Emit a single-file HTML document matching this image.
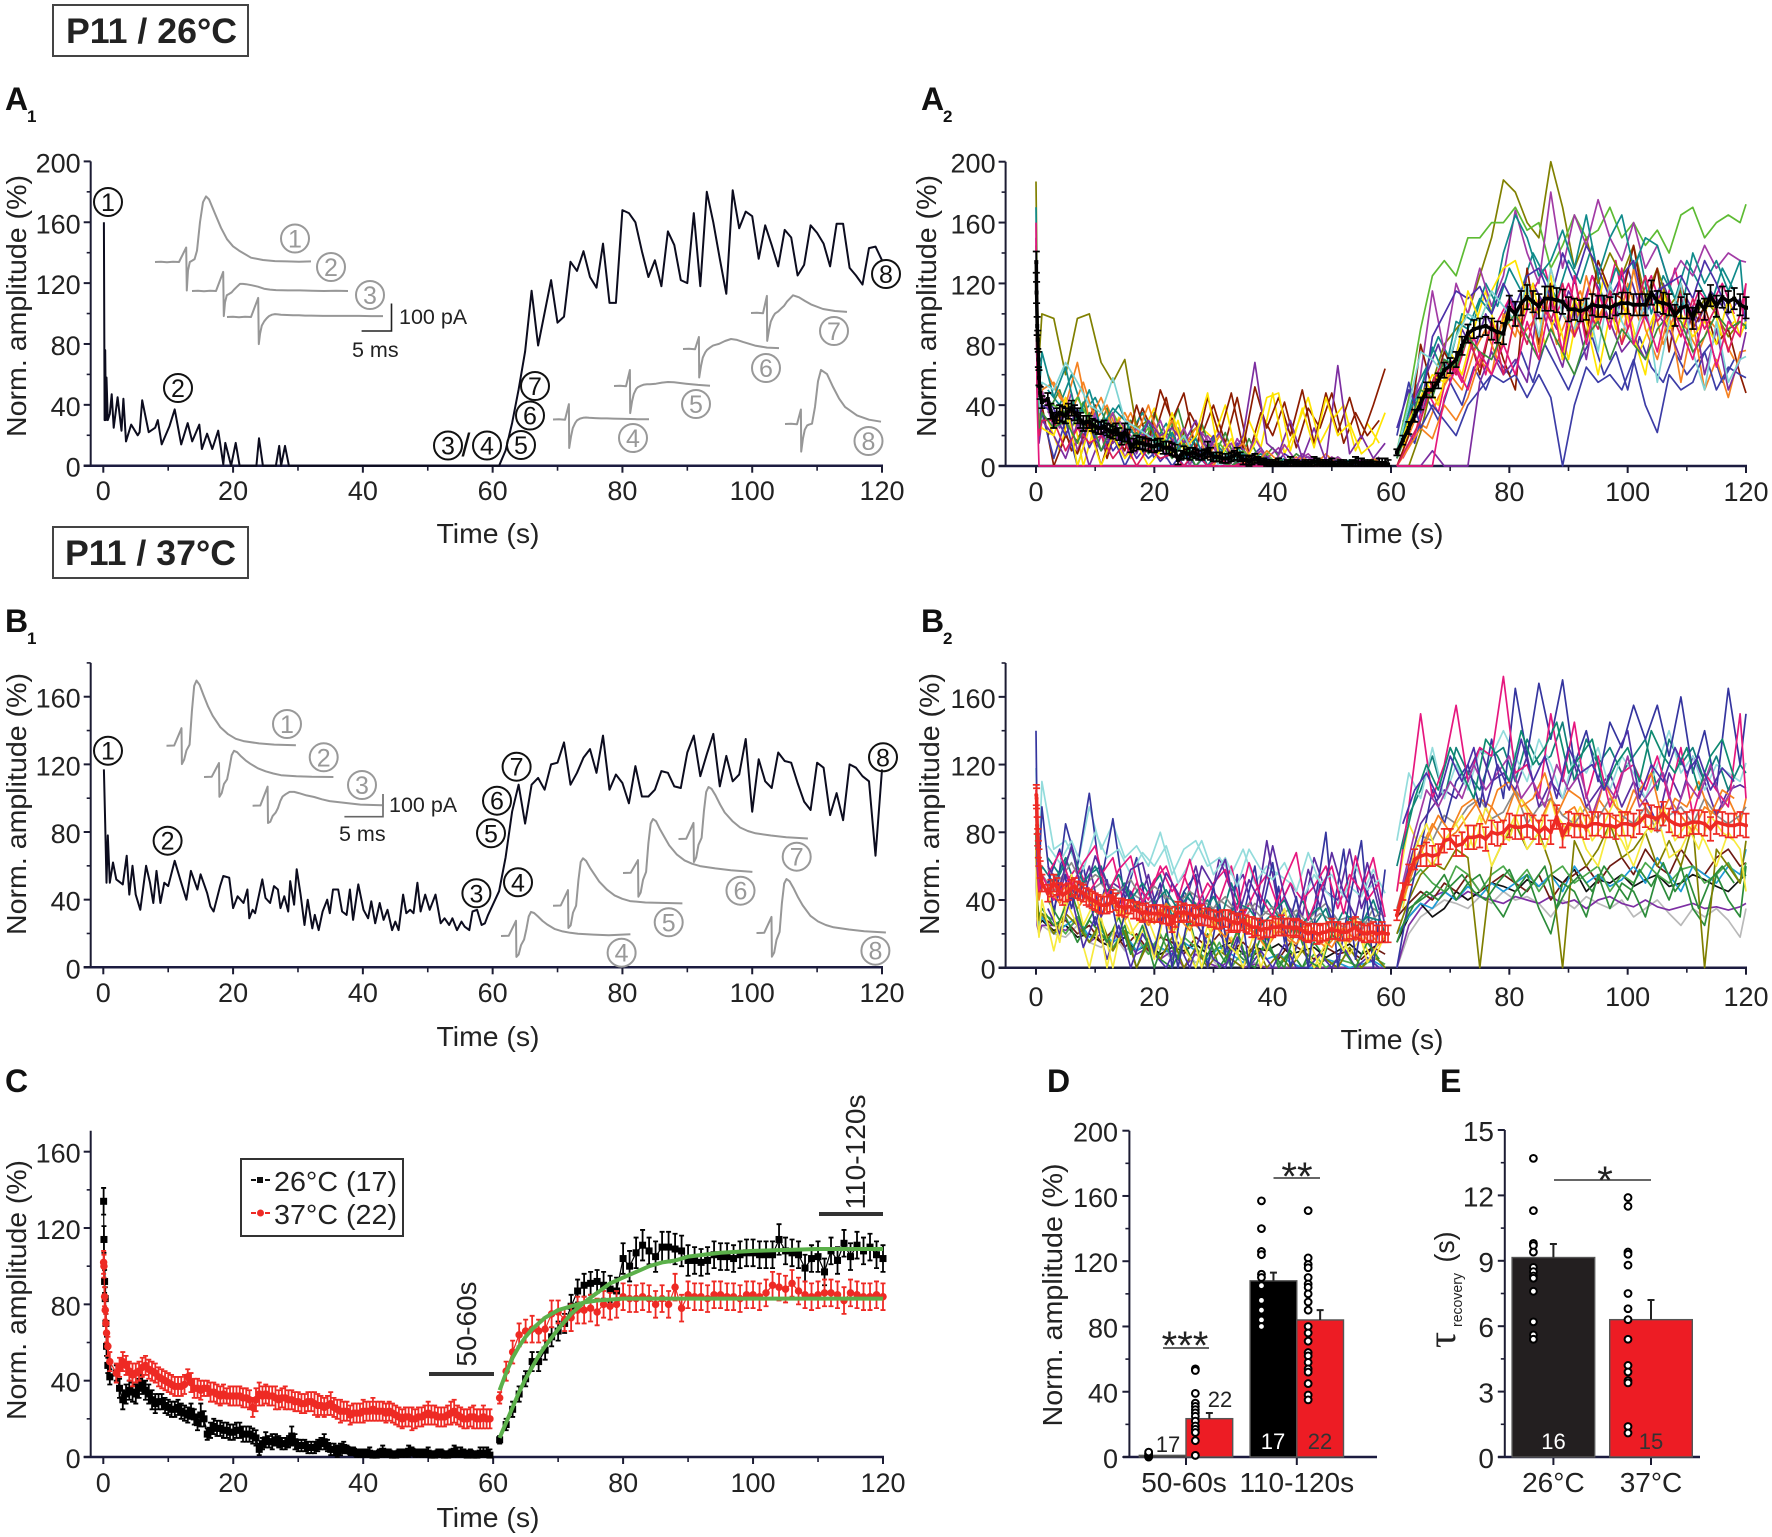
<!DOCTYPE html>
<html lang="en">
<head>
<meta charset="utf-8">
<title>P11 synaptic depression and recovery at 26°C and 37°C</title>
<style>
html,body{margin:0;padding:0;background:#fff}
svg{display:block}
text{font-family:"Liberation Sans",Arial,sans-serif;fill:#222}
.title{font-size:35px;font-weight:700}
.letter{font-size:32px;font-weight:700;fill:#111}
.sub{font-size:17px;font-weight:700;fill:#111}
.lab{font-size:28px}
.note{font-size:21.5px}
</style>
</head>
<body>
<svg id="figure" xmlns="http://www.w3.org/2000/svg" width="1772" height="1537" viewBox="0 0 1772 1537">
  <rect x="0" y="0" width="1772" height="1537" fill="#fff"/>

  <g>
    <rect x="53" y="5" width="195" height="51" fill="none" stroke="#444" stroke-width="2"/>
    <text class="title" x="66" y="43" textLength="171" lengthAdjust="spacingAndGlyphs">P11 / 26°C</text>
  </g>
  <g>
    <rect x="53" y="527" width="195" height="51" fill="none" stroke="#444" stroke-width="2"/>
    <text class="title" x="65" y="565" textLength="171" lengthAdjust="spacingAndGlyphs">P11 / 37°C</text>
  </g>

  <g>
    <text class="letter" x="5" y="110">A</text>
    <text class="sub" x="27" y="122">1</text>
    <text class="letter" x="921" y="110">A</text>
    <text class="sub" x="943" y="122">2</text>
    <text class="letter" x="5" y="632">B</text>
    <text class="sub" x="27" y="644">1</text>
    <text class="letter" x="921" y="632">B</text>
    <text class="sub" x="943" y="644">2</text>
    <text class="letter" x="5" y="1092">C</text>
    <text class="letter" x="1047" y="1092">D</text>
    <text class="letter" x="1440" y="1092">E</text>
  </g>

  <g>
    <text class="lab" text-anchor="middle" textLength="262" lengthAdjust="spacingAndGlyphs" transform="translate(26,306) rotate(-90)">Norm. amplitude (%)</text>
    <text class="lab" text-anchor="middle" textLength="262" lengthAdjust="spacingAndGlyphs" transform="translate(936,306) rotate(-90)">Norm. amplitude (%)</text>
    <text class="lab" text-anchor="middle" textLength="262" lengthAdjust="spacingAndGlyphs" transform="translate(26,804) rotate(-90)">Norm. amplitude (%)</text>
    <text class="lab" text-anchor="middle" textLength="262" lengthAdjust="spacingAndGlyphs" transform="translate(939,804) rotate(-90)">Norm. amplitude (%)</text>
    <text class="lab" text-anchor="middle" textLength="260" lengthAdjust="spacingAndGlyphs" transform="translate(26,1290) rotate(-90)">Norm. amplitude (%)</text>
    <text class="lab" text-anchor="middle" textLength="263" lengthAdjust="spacingAndGlyphs" transform="translate(1062,1295) rotate(-90)">Norm. amplitude (%)</text>
    <text class="lab" text-anchor="middle" textLength="103" lengthAdjust="spacingAndGlyphs" x="488" y="543">Time (s)</text>
    <text class="lab" text-anchor="middle" textLength="103" lengthAdjust="spacingAndGlyphs" x="1392" y="543">Time (s)</text>
    <text class="lab" text-anchor="middle" textLength="103" lengthAdjust="spacingAndGlyphs" x="488" y="1046">Time (s)</text>
    <text class="lab" text-anchor="middle" textLength="103" lengthAdjust="spacingAndGlyphs" x="1392" y="1049">Time (s)</text>
    <text class="lab" text-anchor="middle" textLength="103" lengthAdjust="spacingAndGlyphs" x="488" y="1527">Time (s)</text>
    <g>
      <text text-anchor="middle" transform="translate(1455,1340) rotate(-90)" style="font-family:'Liberation Serif',serif;font-size:40px">τ</text>
      <text text-anchor="middle" textLength="54" lengthAdjust="spacingAndGlyphs" transform="translate(1462,1300) rotate(-90)" style="font-size:15px">recovery</text>
      <text text-anchor="middle" textLength="31" lengthAdjust="spacingAndGlyphs" transform="translate(1454,1247) rotate(-90)" style="font-size:28px">(s)</text>
    </g>
  </g>

  <g id="chart-layer"></g>

  <g>
    <rect x="429" y="1372" width="65" height="4" fill="#333"/>
    <text class="lab" text-anchor="middle" textLength="85" lengthAdjust="spacingAndGlyphs" transform="translate(476,1324) rotate(-90)">50-60s</text>
    <rect x="819" y="1212" width="64" height="4" fill="#333"/>
    <text class="lab" text-anchor="middle" textLength="115" lengthAdjust="spacingAndGlyphs" transform="translate(865,1152) rotate(-90)">110-120s</text>
    <g>
      <rect x="241" y="1159" width="162" height="77" fill="#fff" stroke="#333" stroke-width="2"/>
      <line x1="251" y1="1180" x2="270" y2="1180" stroke="#111" stroke-width="2" stroke-dasharray="5 2"/>
      <rect x="257" y="1177" width="6" height="6" fill="#111"/>
      <text class="lab" x="274" y="1191" textLength="123" lengthAdjust="spacingAndGlyphs">26°C (17)</text>
      <line x1="251" y1="1213" x2="270" y2="1213" stroke="#ee2a24" stroke-width="2" stroke-dasharray="5 2"/>
      <circle cx="260.5" cy="1213" r="3.5" fill="#ee2a24"/>
      <text class="lab" x="274" y="1224" textLength="123" lengthAdjust="spacingAndGlyphs">37°C (22)</text>
    </g>
  </g>

  <g>
    <path d="M361.6 331H391.5V303.5" fill="none" stroke="#222" stroke-width="1.6"/>
    <text class="note" x="399" y="324">100 pA</text>
    <text class="note" x="352" y="357">5 ms</text>
    <path d="M344.4 816.7H383V794" fill="none" stroke="#666" stroke-width="1.6"/>
    <text class="note" x="389" y="812">100 pA</text>
    <text class="note" x="339" y="841">5 ms</text>
  </g>

  <g>
    <line x1="1163" y1="1348" x2="1209" y2="1348" stroke="#333" stroke-width="1.6"/>
    <text text-anchor="middle" x="1185" y="1359" style="font-size:40px">***</text>
    <line x1="1273.5" y1="1178" x2="1320" y2="1178" stroke="#333" stroke-width="1.6"/>
    <text text-anchor="middle" x="1297" y="1190" style="font-size:40px">**</text>
    <line x1="1554" y1="1180" x2="1651" y2="1180" stroke="#333" stroke-width="1.6"/>
    <text text-anchor="middle" x="1605" y="1194" style="font-size:40px">*</text>
  </g>
</svg>

<script>
// ---------- tick labels ----------
const timeTicks = [0,20,40,60,80,100,120];
const timeMinorTicks = [10,30,50,70,90,110];
const ampTicks200 = [0,40,80,120,160,200];
const ampMinor200 = [20,60,100,140,180];
const ampTicks160 = [0,40,80,120,160];
const ampMinor180 = [20,60,100,140,180];
const ampMinor140 = [20,60,100,140];
const tauTicks = [0,3,6,9,12,15];
const tauMinor = [1.5,4.5,7.5,10.5,13.5];

// ---------- A1 example cell ----------
const a1Times = [0.1,0.2,0.3,0.4,0.5,0.7,1,1.3,1.6,2.2,2.8,3.1,3.5,4.3,5.3,5.6,6,7,8,8.4,9,10.2,11,12,13,13.7,14.8,15.2,16,16.8,17.7,18.5,18.8,19.7,20.4,21,23.6,24,24.6,26.6,27.1,27.4,28,28.6,40,59,61,62,63,64,65,66,67,69,70,71,72,73,74,75,76,77,78,79,80,81,82,83,84,85,86,87,88,89,90,91,92,93,94,95,96,97,98,99,100,101,102,103,104,105,106,107,108,109,110,111,112,113,114,115,116,117,118,119,120];
const a1Values = [160,30,76,30,58,30,34,47,25,45,23,44,16,27,20,22,43,22,25,30,14,26,37,14,28,16,27,11,21,11,23,1,15,0,15,0,0,18,0,0,13,0,13,0,0,0,0,10,28,50,75,115,79,122,94,98,134,128,141,124,117,146,107,107,168,166,160,141,124,135,118,154,145,122,120,166,118,180,160,136,113,181,156,167,164,136,158,145,131,155,150,125,132,158,153,146,131,159,159,130,125,119,143,144,135];

// ---------- B1 example cell ----------
const b1Times = [0.1,0.3,0.5,0.7,1,1.5,2,3,3.6,4,4.5,5,5.7,6.6,7.2,7.7,8.2,8.8,9.4,10,11,12,12.8,13.5,14.5,15,16,16.5,17,18,18.5,19.4,20,20.7,21.6,22.2,22.5,23,23.4,24.5,25,25.7,26.3,26.9,27.3,27.9,28.5,28.8,29.4,29.8,30.4,31,31.5,32.2,32.6,33.2,33.8,34.5,34.9,35.4,36.2,36.8,37.5,38,38.5,39.3,40.1,40.8,41.3,41.9,42.6,43.2,43.8,44.5,45,45.5,46.2,46.7,47.3,47.8,48.4,48.9,49.6,50.3,51.2,52,52.6,53.3,53.8,54.5,55.2,55.7,56.4,56.9,57.6,58.3,58.8,59.3,61,62,63,64,65,66,67,68,69,70,71,72,73,74,75,76,77,78,79,80,81,82,83,84,85,86,87,88,89,90,91,92,93,94,95,96,97,98,99,100,101,102,103,104,105,106,107,108,109,110,111,112,113,114,115,116,117,118,119,120];
const b1Values = [117,85,50,78,50,62,52,49,66,43,60,43,34,60,50,38,57,38,50,48,63,50,40,57,46,55,44,36,33,48,54,53,35,42,38,46,29,34,32,52,41,38,48,46,35,42,33,51,37,58,43,25,40,23,31,22,33,40,32,46,46,33,31,46,28,49,34,29,39,26,38,28,34,22,27,22,43,32,34,32,50,33,43,34,43,26,29,25,29,22,27,24,22,33,34,25,26,31,45,65,92,108,85,108,112,105,120,121,133,108,115,124,129,115,137,105,114,109,97,119,101,101,105,116,115,107,106,127,137,113,126,138,107,125,110,114,135,92,123,110,106,127,122,121,109,98,93,121,118,90,103,87,120,118,113,110,66,117];

// ---------- group means (panels A2, B2, C) ----------
const decayTimes = [0.05,0.1,0.2,0.3,0.4,0.5,0.7,1,2,3,4,5,6,7,8,9,10,11,12,13,14,15,16,17,18,19,20,21,22,23,24,25,26,27,28,29,30,31,32,33,34,35,36,37,38,39,40,41,42,43,44,45,46,47,48,49,50,51,52,53,54,55,56,57,58,59];
const decayMidTimes = [2.5,3.5,4.5,5.5,6.5,7.5,8.5,9.5,10.5,11.5,12.5,13.5,14.5,15.5,16.5,17.5,18.5,19.5,20.5,21.5,22.5,23.5,24.5,25.5,26.5,27.5,28.5,29.5,30.5,31.5,32.5,33.5,34.5,35.5,36.5,37.5,38.5,39.5,40.5,41.5,42.5,43.5,44.5,45.5,46.5,47.5,48.5,49.5,50.5,51.5,52.5,53.5,54.5,55.5,56.5,57.5,58.5,59.5];
const recoveryTimes = [61,62,63,64,65,66,67,68,69,70,71,72,73,74,75,76,77,78,79,80,81,82,83,84,85,86,87,88,89,90,91,92,93,94,95,96,97,98,99,100,101,102,103,104,105,106,107,108,109,110,111,112,113,114,115,116,117,118,119,120];
const mean26Decay = [134,114,92,83,70,58,48,42, 44,30,35,33,38,33,28,29,26,25, 24,22,21,22,12,16,15,14,13,14, 12,11,4,9,8,8,7,11,6,6, 5,6,8,4,3,5,3,2,2,2, 1,3,2,1,2,3,2,2,2,1, 2,1,3,2,1,1,2,2];
const mean26Mid = [36,33,34,36,35,30,29,27,25,26, 23,24,18,20,14,15,14,13,14,12, 12,10,7,8,9,7,8,8,6,5, 5,7,6,4,4,4,3,2,2,1, 2,2,1,2,2,3,2,2,1,2, 1,2,2,2,2,1,2,1];
const mean26Recovery = [9,17,25,33,41,50,50,56,63,66, 70,79,87,90,91,92,90,88,87,104, 100,107,111,108,105,110,110,109,108,103, 103,102,103,106,105,105,104,106,107,107, 106,106,106,114,108,107,106,99,104,105, 97,108,103,112,105,111,108,110,106,104];
const sem26Decay = [7,7,6,6,5,5,4,4, 4,5,5,5,5,5,5,4,4,4, 4,4,4,6,3,4,4,4,4,4, 4,4,3,4,4,3,3,5,3,3, 3,3,4,3,3,3,2,2,2,3, 2,3,2,2,2,3,2,2,3,2, 2,2,3,3,2,2,3,3];
const sem26Mid = [5,5,5,5,5,5,4,4,4,4, 4,4,4,4,4,4,4,4,4,4, 4,4,3,3,3,3,3,4,3,3, 3,3,3,3,3,2,2,2,2,2, 2,2,2,2,2,2,2,2,2,2, 2,2,3,2,2,2,3,3];
const sem26Recovery = [2,3,4,4,4,5,5,5,5,5, 5,6,6,6,6,6,7,7,7,8, 8,8,8,7,8,8,8,8,8,8, 7,7,7,7,7,7,7,7,7,7, 7,7,7,8,7,7,7,7,7,8, 7,7,7,7,7,7,7,7,7,7];
const mean37Decay = [102,100,84,77,70,65,58,50, 44,50,45,44,47,46,44,41,39,37, 37,42,36,35,36,34,32,32,32,32, 31,26,33,33,32,30,31,30,29,28, 29,27,26,28,25,24,22,23,24,24, 24,24,24,22,20,21,20,21,23,22, 21,22,24,21,20,21,20,20];
const mean37Mid = [47,48,43,45,48,45,42,40,38,37, 38,39,36,36,34,33,33,32,32,31, 30,30,32,32,31,31,30,29,28,29, 28,27,27,26,24,24,23,23,24,25, 24,23,23,21,21,20,21,22,22,21, 21,23,22,20,21,20,21,20];
const mean37Recovery = [31,45,55,64,66,67,66,67,75,76, 72,73,77,77,78,76,80,79,80,84, 83,83,84,83,80,83,80,89,78,85, 84,84,83,85,85,84,84,83,85,85, 84,86,90,89,88,91,87,85,84,85, 86,86,85,82,86,85,84,84,85,84];
const sem37Decay = [6,6,5,5,5,5,5,5, 5,5,5,5,5,5,5,5,5,5, 5,4,5,5,4,5,5,4,5,5, 5,5,6,5,5,5,6,5,5,5, 5,6,5,6,5,5,5,5,6,5, 5,5,5,5,5,5,5,5,6,5, 5,5,6,5,5,6,5,5];
const sem37Mid = [5,5,6,5,5,5,5,5,5,5, 5,5,5,4,5,5,5,5,5,5, 5,6,5,5,6,5,5,5,5,5, 6,5,5,5,6,5,5,5,5,6, 5,5,5,5,5,6,5,5,5,5, 5,6,5,5,5,5,6,5];
const sem37Recovery = [3,5,6,6,6,7,6,6,7,6, 6,7,7,7,7,7,7,7,7,7, 7,7,7,7,7,7,7,7,7,7, 7,7,7,7,7,7,7,7,7,7, 7,7,7,7,7,7,7,7,7,7, 7,7,7,7,7,7,7,7,7,7];

// ---------- recovery fits (panel C) ----------
const fitTimes = [61,62,63,64,65,66,67,68,70,72,74,76,78,80,82,84,86,88,90,95,100,110,120];
const fit26Values = [10,18,26,34,41,47,53,58,67,75,81,86,91,94,97,100,102,103,105,107,108,109,109];
const fit37Values = [35,44,52,58,63,67,70,73,77,79,81,82,82.5,83,83,83,83,83,83,83,83,83,83];

// ---------- single-cell traces (panels A2, B2) ----------
const traceDecayTimes = [0,0.2,0.5,1,3,5,7,9,11,13,15,17,19,21,23,25,27,29,31,33,35,37,39,41,43,45,47,49,51,53,55,57,59];
const traceRecoveryTimes = [61,63,65,67,69,71,73,75,77,79,81,83,85,87,89,91,93,95,97,99,101,103,105,107,109,111,113,115,117,119,120];
const evenDecayTimes = [2,4,6,8,10,12,14,16,18,20,22,24,26,28,30,32,34,36,38,40,42,44,46,48,50,52,54,56,58];
const evenRecoveryTimes = [62,64,66,68,70,72,74,76,78,80,82,84,86,88,90,92,94,96,98,100,102,104,106,108,110,112,114,116,118];

const a2Colors = ['#808000','#5dbb33','#a23ba5','#8c1c00','#f58220','#0f8a8a','#3c3ca6','#4b30a8','#7c2da0','#ffe400','#7ed3d3','#d81e5b','#3a8c3c','#e5177b'];
const a2Decay = [
 [187,115,70,100, 97,60,97,100,68,55,70,25,30,15, 8,20,5,12,3,0,6,0,4,0, 0,3,0,0,5,0,2,0,0],
 [145,70,40,45, 40,35,45,30,25,35,20,15,25,12, 30,18,25,10,15,5,10,3,8,0, 5,0,3,0,6,0,0,4,0],
 [150,60,30,50, 25,45,10,30,20,35,5,25,15,30, 10,25,5,20,8,15,0,18,5,12, 0,8,3,0,6,0,4,0,2],
 [130,55,20,40, 0,20,8,30,0,25,10,40,15,50, 30,48,10,45,20,48,12,52,25,45, 20,50,15,48,22,45,18,40,64],
 [125,60,40,50, 55,40,68,30,45,25,35,20,40,15, 30,12,25,5,20,8,15,0,10,3, 0,6,0,8,0,4,0,5,0],
 [170,80,45,75, 45,65,30,50,25,38,30,18,30,10, 22,5,18,0,12,3,8,0,5,0, 3,0,2,0,0,4,0,0,3],
 [120,50,25,35, 5,30,0,25,10,20,0,15,5,12, 0,10,0,8,3,0,6,0,3,0, 2,0,0,3,0,0,2,0,0],
 [135,55,30,40, 35,20,38,12,28,10,20,5,15,3, 12,0,8,0,5,0,3,0,6,0, 2,0,3,0,4,0,0,2,0],
 [135,45,15,30, 20,5,28,0,20,15,25,8,30,20, 25,15,30,10,22,5,20,68,15,8, 30,5,25,3,66,8,20,5,15],
 [130,55,30,25, 20,45,0,25,0,20,5,15,0,10, 35,10,20,48,5,18,0,15,45,48, 10,38,12,45,20,28,8,15,35],
 [140,60,35,55, 50,68,55,40,35,58,30,25,20,15, 10,20,5,12,0,8,0,5,0,3, 0,2,0,0,3,0,0,0,0],
 [125,50,20,30, 30,10,25,15,20,5,15,0,12,5, 8,0,10,0,5,0,2,0,3,0, 0,0,0,2,0,0,0,0,0],
 [125,48,25,35, 25,30,15,35,10,28,15,22,8,18, 5,15,0,10,3,0,5,0,0,2, 0,0,3,0,0,0,0,2,0],
 [160,40,0,0, 0,0,0,0,0,0,0,0,0,0, 0,0,0,0,0,0,0,0,0,0, 0,0,0,0,0,0,0,0,0]
];
const a2Recovery = [
 [0,0,22,55,80,90,100,125,150,188, 180,160,150,200,170,130,150,120,140,125, 145,110,130,105,115,95,110,100,85,95,90],
 [10,45,90,125,135,125,150,150,160,160, 170,155,160,130,145,165,150,155,170,150, 160,145,155,140,165,170,150,160,165,160,172],
 [5,30,60,115,75,120,100,130,105,125, 168,140,120,180,130,165,145,175,150,135, 160,130,145,120,135,125,145,130,140,135,134],
 [0,20,80,50,75,60,90,60,95,70, 50,130,80,120,70,125,85,135,115,110, 145,100,130,75,120,90,105,80,90,60,48],
 [0,12,25,18,40,30,45,70,60,100, 85,120,75,130,100,85,125,95,115,80, 130,90,70,100,55,95,50,70,45,75,76],
 [5,35,50,78,60,95,90,110,100,140, 165,150,125,135,155,130,165,125,150,165, 130,150,145,120,100,140,120,135,115,135,90],
 [20,55,25,40,30,20,40,50,60,55, 60,45,60,45,0,40,65,55,60,50, 70,40,22,60,50,55,75,50,65,60,58],
 [25,50,35,85,100,115,110,118,100,120, 105,125,130,110,140,120,145,130,110,125, 135,100,115,120,125,110,135,120,100,110,95],
 [0,0,0,10,0,0,0,55,75,60, 70,55,110,85,65,105,70,115,95,75, 85,70,100,90,70,105,60,90,50,70,88],
 [8,30,45,60,55,70,115,95,115,130, 135,110,100,125,70,110,95,60,100,110, 85,60,110,90,100,85,95,80,110,85,95],
 [10,40,75,70,60,85,100,95,115,105, 95,120,85,130,100,90,110,75,120,95, 80,110,55,95,120,75,50,95,55,70,72],
 [0,15,30,55,70,60,85,65,95,60, 100,80,110,95,120,85,105,90,115,80, 100,125,95,105,85,110,90,105,75,100,120],
 [5,25,50,45,70,65,85,75,70,90, 100,85,70,90,75,60,85,95,70,90, 80,70,90,100,95,75,85,100,90,95,92],
 [0,0,0,0,45,65,50,75,60,80, 60,95,70,110,75,125,80,115,90,130, 80,100,75,110,90,70,100,65,95,85,120]
];
const a2EvenDecayColors = ['#8c1c00','#ffe400','#0f8a8a','#f58220','#4b30a8','#3a8c3c','#a23ba5'];
const a2EvenDecay = [
 [20,35,10,25,40,5,30,15,38,20,45,10,35,20,40,15,45,8,35,20,42,12,38,25,48,15,35,20,30],
 [30,10,40,0,28,15,32,5,22,38,10,30,0,25,18,40,5,30,12,48,8,25,45,15,30,40,10,28,15],
 [50,40,60,35,45,28,40,22,35,15,28,10,22,5,18,0,12,3,8,0,5,0,2,0,0,3,0,0,2],
 [60,45,35,55,30,40,20,35,15,28,10,25,5,20,0,15,8,0,10,3,0,6,0,4,0,2,0,3,0],
 [45,30,40,20,32,15,28,10,24,5,22,12,18,8,20,0,15,5,12,0,8,3,6,0,4,0,3,0,5],
 [35,50,25,42,18,38,12,30,8,35,15,38,10,28,5,22,0,18,3,12,0,8,2,5,0,3,0,2,0],
 [40,25,48,15,35,8,30,20,10,28,5,25,0,22,12,0,18,5,10,0,14,3,8,0,6,0,4,0,6]
];
const a2EvenRecoveryColors = ['#5b2da0','#e5177b','#f58220','#0f8a8a','#3c3ca6','#ffe400'];
const a2EvenRecovery = [
 [15,45,60,80,55,90,75,100,85,110,95,120,105,90,115,100,125,110,95,130,105,90,120,100,110,95,115,105,90],
 [5,20,50,35,70,55,85,60,95,110,90,115,130,100,120,95,125,105,135,90,110,125,100,130,95,115,105,120,100],
 [10,30,25,45,60,50,75,90,70,100,85,95,110,80,100,115,90,105,85,120,95,110,80,100,90,75,95,85,70],
 [20,50,65,85,70,100,95,120,105,130,115,140,125,110,135,120,145,105,130,115,140,100,125,110,135,120,105,130,115],
 [30,15,45,30,55,40,65,50,70,60,75,55,80,65,50,70,85,60,75,50,85,65,55,75,60,70,80,55,70],
 [12,35,55,40,75,60,90,115,85,105,95,120,80,100,70,110,85,125,90,105,75,95,115,80,100,90,110,85,95]
];

const b2Colors = ['#b9b9b9','#7d2fa3','#111111','#6d1a12','#1e9bd7','#4aa84a','#2c8c3a','#7f7f00','#f7ea3d','#f5821f','#8a8a8a','#5b2da0','#11807a','#93dcdc','#35359f','#e6177e'];
const b2Decay = [
 [70,30,22,25, 20,18,25,15,12,20,10,15,8,12, 5,10,3,8,0,5,0,3,0,0, 0,0,0,0,0,0,0,0,0],
 [70,25,20,25, 25,22,28,15,20,12,18,8,12,5, 10,0,8,3,0,5,0,2,0,0, 0,0,0,0,0,0,0,0,0],
 [70,30,25,28, 22,25,18,20,15,12,18,10,14,8, 12,10,14,8,12,15,8,12,10,14, 8,10,12,6,10,14,8,12,16],
 [75,35,25,30, 25,28,20,25,15,22,12,20,10,18, 15,8,18,12,20,10,15,8,12,5, 15,10,5,12,8,10,5,12,8],
 [75,35,25,30, 20,25,30,18,22,15,20,10,15,12, 8,15,10,5,12,8,3,10,5,8, 3,0,0,5,3,0,2,4,0],
 [78,35,28,32, 28,20,30,15,25,12,22,18,8,20, 5,18,12,3,15,0,10,5,14,2, 10,0,8,0,5,3,0,6,2],
 [80,40,30,35, 25,30,15,28,20,10,25,0,18,5, 0,15,0,20,0,12,5,0,18,0, 10,0,15,5,0,12,0,8,0],
 [80,40,28,32, 20,32,25,15,28,10,22,0,15,5, 18,0,12,0,10,5,0,15,0,8, 0,10,0,5,0,12,0,8,0],
 [70,30,18,40, 10,40,25,0,30,0,35,15,28,10, 30,12,0,25,8,18,0,22,10,28, 5,20,0,15,25,8,18,3,20],
 [85,55,40,50, 40,48,35,45,30,42,28,38,25,35, 20,32,25,18,28,15,25,20,12,22, 15,25,18,12,20,15,22,10,18],
 [90,60,50,55, 45,55,50,45,50,40,48,42,38,45, 35,42,38,30,40,35,28,38,32,30, 35,25,32,38,28,30,22,35,30],
 [95,60,45,50, 35,55,40,60,30,50,45,35,55,25, 50,35,60,30,65,45,55,30,75,35, 50,30,65,45,40,70,35,55,25],
 [100,65,50,60, 50,65,45,55,60,40,50,35,45,55, 30,45,35,40,25,50,30,20,40,30, 20,40,25,35,15,30,25,40,20],
 [118,90,65,110, 70,75,60,95,70,85,65,72,60,80, 55,70,75,60,65,55,70,50,60,55, 50,40,55,45,38,48,42,58,44],
 [140,80,55,95, 30,85,60,103,50,88,40,65,30,50, 0,45,55,0,38,0,30,60,10,48, 0,25,35,80,0,40,75,0,58],
 [105,70,45,55, 40,50,60,45,55,65,35,50,40,60, 45,55,35,50,40,60,30,45,55,35, 50,40,48,60,35,55,45,65,30]
];
const b2Recovery = [
 [0,20,30,35,40,38,35,42,38,45, 40,42,38,30,40,35,42,38,35,40, 30,35,40,32,25,35,30,35,28,18,35],
 [0,25,35,42,45,40,45,42,40,38, 42,40,38,42,38,40,35,40,42,38, 36,40,36,34,36,38,35,36,34,36,38],
 [15,30,38,30,35,45,40,45,50,48, 45,52,48,55,50,58,45,52,50,55, 48,52,55,48,50,55,52,48,45,52,55],
 [30,38,45,40,50,45,55,45,50,55, 50,45,55,40,50,55,60,50,60,65, 55,70,60,55,70,60,55,65,70,60,62],
 [20,30,38,35,45,40,48,42,50,45, 50,55,48,55,45,60,50,55,48,52, 60,50,65,55,45,60,55,50,60,55,70],
 [30,50,58,50,45,60,55,45,55,60, 50,58,45,55,60,50,55,60,45,55, 50,62,55,50,58,60,50,55,62,50,62],
 [15,35,40,45,55,40,50,55,40,30, 45,55,35,20,50,45,30,55,35,50, 45,30,55,40,60,35,25,55,40,30,60],
 [20,40,55,62,58,70,65,0,60,75, 85,70,80,60,0,75,60,70,85,65, 70,80,60,75,60,85,0,70,60,50,75],
 [45,85,70,60,75,85,70,90,60,75, 90,70,80,100,75,90,70,60,85,75, 60,80,90,65,70,85,75,60,80,70,45],
 [30,55,70,85,75,80,90,100,95,85, 105,95,85,100,90,95,80,100,90,85, 105,95,85,100,90,80,95,90,100,85,100],
 [35,60,78,75,90,85,95,100,88,92, 105,85,95,100,90,85,95,88,100,90, 85,95,80,90,95,85,100,90,85,90,95],
 [30,60,85,95,105,100,115,130,110,115, 105,125,95,110,100,120,95,105,115,95, 110,100,85,115,100,125,110,90,105,108,106],
 [60,90,105,125,100,130,115,105,125,130, 110,135,120,125,145,110,135,120,130,115, 125,135,105,135,120,130,110,125,105,120,115],
 [75,115,100,130,100,120,105,128,125,140, 125,110,135,120,100,125,115,130,105,125, 115,100,120,140,115,125,105,120,115,110,121],
 [0,40,70,105,85,110,120,95,135,100, 165,125,168,135,170,120,140,110,145,130, 155,135,155,125,160,115,140,105,165,120,150],
 [45,95,150,100,120,155,110,130,125,172, 115,120,100,150,110,145,100,125,95,115, 120,105,125,100,130,90,115,105,95,150,100]
];
const b2EvenDecayColors = ['#4b30a8','#2c8c3a','#f7ea3d','#35359f','#f5821f','#93dcdc','#8a8a8a','#11807a','#e6177e','#5b2da0'];
const b2EvenDecay = [
 [35,20,42,12,30,5,25,0,20,8,0,15,0,22,5,0,18,0,10,0,14,0,0,8,0,12,0,6,0],
 [40,28,45,22,35,15,30,8,25,0,20,5,28,0,15,3,22,0,18,8,0,25,4,0,20,10,0,15,5],
 [45,15,55,25,40,0,35,20,30,5,38,12,25,0,28,15,8,30,0,20,35,5,18,0,25,10,30,3,15],
 [50,70,35,60,25,52,18,45,30,10,40,0,35,20,48,8,55,0,30,62,15,42,0,50,28,70,5,45,20],
 [48,38,52,42,36,46,30,40,34,26,38,30,22,34,26,18,30,24,16,28,20,14,26,18,12,24,16,22,14],
 [72,62,75,58,80,65,70,55,68,60,72,50,62,75,55,65,48,70,58,52,62,45,68,50,55,42,60,46,52],
 [58,52,62,48,55,50,45,52,40,48,42,38,45,40,35,42,32,38,30,36,28,34,26,32,28,24,30,26,32],
 [65,55,70,50,60,45,55,40,50,38,46,34,44,30,42,28,38,35,25,32,40,22,30,36,20,34,24,30,28],
 [55,68,48,62,72,42,58,66,38,52,60,40,64,36,50,58,34,62,42,30,52,68,28,46,60,32,66,40,50],
 [60,48,72,40,66,50,36,58,62,34,56,44,30,60,48,64,28,52,38,72,42,26,58,36,68,44,30,62,34]
];
const b2EvenRecoveryColors = ['#2c8c3a','#f7ea3d','#f5821f','#a23ba5','#0e8a70','#4b30a8'];
const b2EvenRecovery = [
 [25,38,45,40,48,55,45,40,50,58,42,50,60,35,48,55,45,60,50,40,58,48,62,45,55,35,52,60,50],
 [35,70,85,65,80,90,70,95,80,75,100,85,70,90,80,95,75,85,100,70,90,80,95,75,85,70,90,80,75],
 [40,60,75,90,80,95,100,85,105,110,95,100,115,90,105,100,85,110,95,90,105,115,85,100,95,110,90,105,100],
 [50,80,105,95,110,100,120,105,115,125,100,110,95,120,105,115,90,110,100,125,95,105,115,90,110,100,120,95,108],
 [70,100,120,105,130,115,100,135,125,110,140,120,130,145,115,125,135,105,120,130,110,140,125,115,130,105,125,135,112],
 [85,105,115,100,125,110,130,95,120,105,135,110,125,100,130,115,120,105,125,140,100,120,110,130,115,125,105,118,110]
];

// ---------- bar charts ----------
const dCategories = ['50-60s','110-120s'];
const dMeans26 = [1,108];
const dMeans37 = [23.5,84];
const dSem26 = [0,5];
const dSem37 = [3.5,6];
const dDots26Low = [0,0,1,1,2,2,3];
const dDots37Low = [54,53,39,33,31,29,27,25,22,19,17,15,10,1,1];
const dDots26High = [157,140,126,124,112,110,105,96,90,84,80];
const dDots37High = [151,122,118,116,110,106,104,100,95,90,80,76,71,64,62,58,54,52,45,38,35];
const eCategories = ['26°C','37°C'];
const eMeans = [9.15,6.3];
const eSem = [0.62,0.9];
const eDots26 = [13.7,11.3,9.8,9.7,9.4,8.7,8.5,8.3,8.2,7.6,6.2,5.6,5.4,5.4];
const eDots37 = [11.9,11.5,9.4,9.3,8.8,7.5,6.8,6.3,5.4,4.2,3.9,3.5,3.4,1.4,1.1];

// ---------- evoked current insets (pA against ms) ----------
const insetLongMs = [0,1,2,3,4,5.2,5.3,5.5,5.8,6.2,6.6,7,7.5,8,8.5,9,10,11,12,13,14,16,18,20,22,24,26];
const a1Wave1 = [0,1,-1,1,0,51,-100,-30,0,5,10,40,140,210,230,220,170,120,80,55,40,15,7,3,2,1,2];
const a1Wave2 = [0,1,-1,1,0,67,-88,-40,-15,-10,-5,5,15,25,25,24,20,15,8,5,3,2,2,1,0,1,0];
const a1Wave3 = [0,1,-1,1,0,67,-95,-60,-30,-15,-5,3,8,10,9,8,7,6,6,5,5,4,4,4,4,3,3];
const insetShortMs = [0,1,2,2.65,2.7,3,3.3,3.7,4,4.5,5,5.5,6,7,8,9,10,12,14,16];
const a1Wave4 = [0,1,-1,54,-100,-60,-30,-12,-3,3,6,7,6,5,4,4,3,2,1,1];
const a1Wave5 = [0,1,-1,56,-95,-55,-28,-10,-4,1,5,6,6,8,12,14,13,8,4,1];
const a1Wave6 = [0,1,-1,42,-100,-60,-30,-12,-3,5,12,15,18,28,35,32,25,12,5,3];
const a1Wave7 = [0,1,-1,60,-98,-60,-30,-12,-2,5,15,25,40,62,55,42,30,14,7,4];
const a1Wave8 = [0,1,-1,51,-97,-50,-20,-5,-2,1,60,150,190,175,130,90,60,30,15,8];
const insetB1Ms = [0,1,1.95,2,2.3,2.6,3,3.3,3.6,3.9,4.3,4.8,5.4,6,7,8,9,10,12,14,16.8];
const b1Wave1 = [0,1,76,-80,-60,-20,5,150,260,283,265,220,170,130,80,50,30,20,10,5,2];
const b1Wave2 = [0,1,61,-86,-70,-30,-10,40,95,114,108,90,72,58,38,25,15,8,3,1,0];
const b1Wave3 = [0,1,83,-75,-70,-45,-30,-10,20,40,50,60,60,55,45,38,28,20,12,5,2];
const b1Wave4 = [0,1,66,-91,-80,-40,-15,30,85,105,100,85,65,50,30,20,14,10,6,3,8];
const b1Wave5 = [0,1,68,-97,-85,-30,0,110,190,206,195,165,135,105,70,45,30,20,14,12,10];
const b1Wave6 = [0,1,56,-103,-85,-30,5,130,215,235,225,190,155,120,80,55,40,30,20,12,5];
const b1Wave7 = [0,1,70,-100,-80,-25,5,120,205,226,218,190,150,115,78,50,35,25,15,8,2];
const b1Wave8 = [0,1,70,-103,-85,-30,5,130,215,235,225,195,155,120,75,50,35,25,15,8,2];

// ---------- drawing helpers ----------
const SVG_NS = 'http://www.w3.org/2000/svg';
const layer = document.getElementById('chart-layer');

function make(parent, tag, attrs, name) {
  const el = document.createElementNS(SVG_NS, tag);
  for (const k in attrs) el.setAttribute(k, attrs[k]);
  
  
  parent.appendChild(el);
  return el;
}
function label(parent, x, y, str, anchor, size, fill, name) {
  const el = make(parent, 'text', {x: x, y: y, 'text-anchor': anchor, style: 'font-size:' + size + 'px;fill:' + fill}, name);
  el.textContent = str;
  return el;
}
function seriesPath(ts, vs, sx, sy) {
  let d = '';
  const n = Math.min(ts.length, vs.length);
  for (let i = 0; i < n; i++) {
    d += (i ? 'L' : 'M') + sx(ts[i]).toFixed(1) + ' ' + sy(vs[i]).toFixed(1);
  }
  return d;
}
function linearScale(d0, d1, r0, r1) {
  return function (v) { return r0 + (v - d0) * (r1 - r0) / (d1 - d0); };
}
// Combine the whole-second and half-second samples into one time-ordered segment.
function mergeSamples(t1, v1, e1, t2, v2, e2) {
  const rows = [];
  t1.forEach(function (t, i) { rows.push([t, v1[i], e1[i]]); });
  t2.forEach(function (t, i) { rows.push([t, v2[i], e2[i]]); });
  rows.sort(function (a, b) { return a[0] - b[0]; });
  return {
    t: rows.map(function (r) { return r[0]; }),
    v: rows.map(function (r) { return r[1]; }),
    e: rows.map(function (r) { return r[2]; })
  };
}

function timePanel(id, g) {
  const group = make(layer, 'g', {}, 'panel-' + id);
  const sx = linearScale(0, 120, g.x0, g.x120);
  const sy = linearScale(0, g.yMax, g.yB, g.yT);
  const axis = make(group, 'g', {}, 'axes-' + id);
  make(axis, 'line', {x1: g.xAxis, y1: g.yB + 1, x2: g.xAxis, y2: g.yT, stroke: '#1c1c33', 'stroke-width': 2}, 'y-axis-' + id);
  make(axis, 'line', {x1: g.xAxis - 7, y1: g.yB, x2: g.x120 + 1, y2: g.yB, stroke: '#1c1c40', 'stroke-width': 2.5}, 'x-axis-' + id);
  g.yTicks.forEach(function (v) {
    make(axis, 'line', {x1: g.xAxis - 7, y1: sy(v), x2: g.xAxis, y2: sy(v), stroke: '#1c1c33', 'stroke-width': 2}, 'y-tick-' + id);
    label(axis, g.xAxis - 10, sy(v) + 11, String(v), 'end', 27, '#222', 'y-tick-label-' + id);
  });
  g.yMinor.forEach(function (v) {
    make(axis, 'line', {x1: g.xAxis - 4, y1: sy(v), x2: g.xAxis, y2: sy(v), stroke: '#1c1c33', 'stroke-width': 1.6}, 'y-minor-tick-' + id);
  });
  timeTicks.forEach(function (v) {
    make(axis, 'line', {x1: sx(v), y1: g.yB, x2: sx(v), y2: g.yB + 7, stroke: '#1c1c33', 'stroke-width': 2}, 'x-tick-' + id);
    label(axis, sx(v), g.xLabelY, String(v), 'middle', 27, '#222', 'x-tick-label-' + id);
  });
  timeMinorTicks.forEach(function (v) {
    make(axis, 'line', {x1: sx(v), y1: g.yB, x2: sx(v), y2: g.yB + 5, stroke: '#1c1c33', 'stroke-width': 1.6}, 'x-minor-tick-' + id);
  });
  return {group: group, sx: sx, sy: sy};
}

function drawMean(p, id, segments, color, lineWidth, marker, markerSize, capHalf, barWidth) {
  const g = make(p.group, 'g', {}, 'mean-series-' + id);
  segments.forEach(function (seg) {
    for (let i = 0; i < seg.t.length; i++) {
      const x = p.sx(seg.t[i]);
      const top = p.sy(seg.v[i] + seg.e[i]);
      const bot = p.sy(Math.max(seg.v[i] - seg.e[i], 0));
      const eb = 'M' + x + ' ' + top + 'V' + bot + 'M' + (x - capHalf) + ' ' + top + 'H' + (x + capHalf) + 'M' + (x - capHalf) + ' ' + bot + 'H' + (x + capHalf);
      make(g, 'path', {d: eb, stroke: color, 'stroke-width': barWidth, fill: 'none'}, 'error-bar-' + id);
    }
    make(g, 'path', {d: seriesPath(seg.t, seg.v, p.sx, p.sy), stroke: color, 'stroke-width': lineWidth, fill: 'none', 'stroke-linejoin': 'round'}, 'mean-line-' + id);
    for (let i = 0; i < seg.t.length; i++) {
      const x = p.sx(seg.t[i]);
      const y = p.sy(seg.v[i]);
      if (marker === 'square') {
        make(g, 'rect', {x: x - markerSize / 2, y: y - markerSize / 2, width: markerSize, height: markerSize, fill: color}, 'mean-point-' + id);
      } else {
        make(g, 'circle', {cx: x, cy: y, r: markerSize / 2, fill: color}, 'mean-point-' + id);
      }
    }
  });
}

function drawTraceSet(group, p, id, times, colors, rows) {
  colors.forEach(function (c, i) {
    make(group, 'path', {d: seriesPath(times, rows[i], p.sx, p.sy), stroke: c, 'stroke-width': 1.7, fill: 'none', 'stroke-linejoin': 'round'}, 'cell-trace-' + id);
  });
}

function drawInset(parent, name, ms, wave, x0, y0, pxMs, pxPa, color) {
  const sx = function (t) { return x0 + t * pxMs; };
  const sy = function (v) { return y0 - v * pxPa; };
  make(parent, 'path', {d: seriesPath(ms, wave, sx, sy), stroke: color, 'stroke-width': 2, fill: 'none', 'stroke-linejoin': 'round'}, name);
}

function circled(parent, cx, cy, str, color, name) {
  const g = make(parent, 'g', {}, name);
  make(g, 'circle', {cx: cx, cy: cy, r: 14, fill: 'none', stroke: color, 'stroke-width': 2}, name + '-ring');
  label(g, cx, cy + 9, str, 'middle', 25, color, name + '-number');
}

const sharedAxis = {x0: 103.3, x120: 882, xAxis: 90.7};
const rightAxis = {x0: 1036, x120: 1746, xAxis: 1005.6};
const seg26Decay = mergeSamples(decayTimes, mean26Decay, sem26Decay, decayMidTimes, mean26Mid, sem26Mid);
const seg37Decay = mergeSamples(decayTimes, mean37Decay, sem37Decay, decayMidTimes, mean37Mid, sem37Mid);
const seg26Recovery = {t: recoveryTimes, v: mean26Recovery, e: sem26Recovery};
const seg37Recovery = {t: recoveryTimes, v: mean37Recovery, e: sem37Recovery};

// ---------- Panel A1 ----------
const pA1 = timePanel('a1', {x0: sharedAxis.x0, x120: sharedAxis.x120, xAxis: sharedAxis.xAxis, yB: 465.7, yT: 161.4, yMax: 200, yTicks: ampTicks200, yMinor: ampMinor200, xLabelY: 500});
make(pA1.group, 'path', {d: seriesPath(a1Times, a1Values, pA1.sx, pA1.sy), stroke: '#0c0c1e', 'stroke-width': 2, fill: 'none', 'stroke-linejoin': 'round'}, 'example-trace-a1');
const insetsA1 = make(pA1.group, 'g', {}, 'current-insets-a1');
drawInset(insetsA1, 'current-trace-1', insetLongMs, a1Wave1, 155, 262, 6, 0.285, '#979797');
drawInset(insetsA1, 'current-trace-2', insetLongMs, a1Wave2, 192, 291, 6, 0.285, '#979797');
drawInset(insetsA1, 'current-trace-3', insetLongMs, a1Wave3, 227, 317, 6, 0.285, '#979797');
drawInset(insetsA1, 'current-trace-4', insetShortMs, a1Wave4, 553, 419.5, 6, 0.285, '#979797');
drawInset(insetsA1, 'current-trace-5', insetShortMs, a1Wave5, 614, 386, 6, 0.285, '#979797');
drawInset(insetsA1, 'current-trace-6', insetShortMs, a1Wave6, 683, 349, 6, 0.285, '#979797');
drawInset(insetsA1, 'current-trace-7', insetShortMs, a1Wave7, 751, 313, 6, 0.285, '#979797');
drawInset(insetsA1, 'current-trace-8', insetShortMs, a1Wave8, 785, 424, 6, 0.285, '#979797');
const markA1 = make(pA1.group, 'g', {}, 'time-point-markers-a1');
circled(markA1, 108, 202, '1', '#111', 'marker-1');
circled(markA1, 178, 388, '2', '#111', 'marker-2');
circled(markA1, 448, 445.5, '3', '#111', 'marker-3');
circled(markA1, 487, 445.5, '4', '#111', 'marker-4');
circled(markA1, 521, 445, '5', '#111', 'marker-5');
circled(markA1, 530, 415.5, '6', '#111', 'marker-6');
circled(markA1, 535, 386, '7', '#111', 'marker-7');
circled(markA1, 886, 274, '8', '#111', 'marker-8');
label(markA1, 466, 456, '/', 'middle', 32, '#111', 'marker-slash');
circled(markA1, 295, 238.5, '1', '#999', 'inset-marker-1');
circled(markA1, 331, 267, '2', '#999', 'inset-marker-2');
circled(markA1, 370, 295, '3', '#999', 'inset-marker-3');
circled(markA1, 633, 438, '4', '#999', 'inset-marker-4');
circled(markA1, 696, 404, '5', '#999', 'inset-marker-5');
circled(markA1, 766, 368, '6', '#999', 'inset-marker-6');
circled(markA1, 834, 331, '7', '#999', 'inset-marker-7');
circled(markA1, 868.5, 441, '8', '#999', 'inset-marker-8');

// ---------- Panel A2 ----------
const pA2 = timePanel('a2', {x0: rightAxis.x0, x120: rightAxis.x120, xAxis: rightAxis.xAxis, yB: 466, yT: 161.7, yMax: 200, yTicks: ampTicks200, yMinor: ampMinor200, xLabelY: 501});
const tracesA2 = make(pA2.group, 'g', {}, 'single-cell-traces-a2');
drawTraceSet(tracesA2, pA2, 'a2-even-decay', evenDecayTimes, a2EvenDecayColors, a2EvenDecay);
drawTraceSet(tracesA2, pA2, 'a2-even-recovery', evenRecoveryTimes, a2EvenRecoveryColors, a2EvenRecovery);
drawTraceSet(tracesA2, pA2, 'a2-decay', traceDecayTimes, a2Colors, a2Decay);
drawTraceSet(tracesA2, pA2, 'a2-recovery', traceRecoveryTimes, a2Colors, a2Recovery);
drawMean(pA2, 'a2-26c', [seg26Decay, seg26Recovery], '#000', 3.5, 'square', 4, 3.5, 1.7);

// ---------- Panel B1 ----------
const pB1 = timePanel('b1', {x0: sharedAxis.x0, x120: sharedAxis.x120, xAxis: sharedAxis.xAxis, yB: 967.3, yT: 662.9, yMax: 180, yTicks: ampTicks160, yMinor: ampMinor180, xLabelY: 1002});
make(pB1.group, 'path', {d: seriesPath(b1Times, b1Values, pB1.sx, pB1.sy), stroke: '#0c0c1e', 'stroke-width': 2, fill: 'none', 'stroke-linejoin': 'round'}, 'example-trace-b1');
const insetsB1 = make(pB1.group, 'g', {}, 'current-insets-b1');
drawInset(insetsB1, 'current-trace-b1-1', insetB1Ms, b1Wave1, 166.5, 745.7, 7.7, 0.23, '#979797');
drawInset(insetsB1, 'current-trace-b1-2', insetB1Ms, b1Wave2, 204, 777, 7.7, 0.23, '#979797');
drawInset(insetsB1, 'current-trace-b1-3', insetB1Ms, b1Wave3, 252.6, 805.7, 7.7, 0.23, '#979797');
drawInset(insetsB1, 'current-trace-b1-4', insetB1Ms, b1Wave4, 501, 936, 7.7, 0.23, '#979797');
drawInset(insetsB1, 'current-trace-b1-5', insetB1Ms, b1Wave5, 553, 905.7, 7.7, 0.23, '#979797');
drawInset(insetsB1, 'current-trace-b1-6', insetB1Ms, b1Wave6, 623, 873, 7.7, 0.23, '#979797');
drawInset(insetsB1, 'current-trace-b1-7', insetB1Ms, b1Wave7, 678.5, 839, 7.7, 0.23, '#979797');
drawInset(insetsB1, 'current-trace-b1-8', insetB1Ms, b1Wave8, 756.5, 933, 7.7, 0.23, '#979797');
const markB1 = make(pB1.group, 'g', {}, 'time-point-markers-b1');
circled(markB1, 108, 750.7, '1', '#111', 'marker-b1-1');
circled(markB1, 167.6, 840.7, '2', '#111', 'marker-b1-2');
circled(markB1, 476.4, 893.3, '3', '#111', 'marker-b1-3');
circled(markB1, 518, 882.3, '4', '#111', 'marker-b1-4');
circled(markB1, 491, 833.3, '5', '#111', 'marker-b1-5');
circled(markB1, 497, 800.7, '6', '#111', 'marker-b1-6');
circled(markB1, 516.6, 766.7, '7', '#111', 'marker-b1-7');
circled(markB1, 883, 757.3, '8', '#111', 'marker-b1-8');
circled(markB1, 287, 724, '1', '#999', 'inset-marker-b1-1');
circled(markB1, 323.7, 757.3, '2', '#999', 'inset-marker-b1-2');
circled(markB1, 362, 785, '3', '#999', 'inset-marker-b1-3');
circled(markB1, 621.6, 952.7, '4', '#999', 'inset-marker-b1-4');
circled(markB1, 668.7, 922.3, '5', '#999', 'inset-marker-b1-5');
circled(markB1, 740.5, 890.7, '6', '#999', 'inset-marker-b1-6');
circled(markB1, 796.7, 856.7, '7', '#999', 'inset-marker-b1-7');
circled(markB1, 875.4, 950.7, '8', '#999', 'inset-marker-b1-8');

// ---------- Panel B2 ----------
const pB2 = timePanel('b2', {x0: rightAxis.x0, x120: rightAxis.x120, xAxis: rightAxis.xAxis, yB: 967.7, yT: 663, yMax: 180, yTicks: ampTicks160, yMinor: ampMinor180, xLabelY: 1006});
const tracesB2 = make(pB2.group, 'g', {}, 'single-cell-traces-b2');
drawTraceSet(tracesB2, pB2, 'b2-decay', traceDecayTimes, b2Colors, b2Decay);
drawTraceSet(tracesB2, pB2, 'b2-recovery', traceRecoveryTimes, b2Colors, b2Recovery);
drawTraceSet(tracesB2, pB2, 'b2-even-decay', evenDecayTimes, b2EvenDecayColors, b2EvenDecay);
drawTraceSet(tracesB2, pB2, 'b2-even-recovery', evenRecoveryTimes, b2EvenRecoveryColors, b2EvenRecovery);
drawMean(pB2, 'b2-37c', [seg37Decay, seg37Recovery], '#ee2a24', 3.5, 'circle', 4, 3.5, 1.7);

// ---------- Panel C ----------
const pC = timePanel('c', {x0: sharedAxis.x0, x120: 883, xAxis: sharedAxis.xAxis, yB: 1457, yT: 1130.7, yMax: 171, yTicks: ampTicks160, yMinor: ampMinor140, xLabelY: 1492});
drawMean(pC, 'c-26c', [seg26Decay, seg26Recovery], '#000', 1.2, 'square', 7, 2.5, 1.8);
drawMean(pC, 'c-37c', [seg37Decay, seg37Recovery], '#ee2a24', 1.2, 'circle', 7.5, 2.5, 1.8);
make(pC.group, 'path', {d: seriesPath(fitTimes, fit26Values, pC.sx, pC.sy), stroke: '#5bb04a', 'stroke-width': 4, fill: 'none'}, 'fit-curve-26c');
make(pC.group, 'path', {d: seriesPath(fitTimes, fit37Values, pC.sx, pC.sy), stroke: '#5bb04a', 'stroke-width': 4, fill: 'none'}, 'fit-curve-37c');

// ---------- Panel D ----------
const dGroup = make(layer, 'g', {}, 'panel-d');
const dY = linearScale(0, 200, 1457, 1130.7);
const dCatX = linearScale(0, 1, 1186, 1296.8);
const dBarW = 46.7;
const dAxis = make(dGroup, 'g', {}, 'axes-d');
function drawBar(parent, x, w, value, sem, sy, fill, name) {
  make(parent, 'rect', {x: x, y: sy(value), width: w, height: sy(0) - sy(value), fill: fill, stroke: '#555', 'stroke-width': 1.4}, name);
  if (sem > 0) {
    const cx = x + w / 2;
    make(parent, 'path', {d: 'M' + cx + ' ' + sy(value) + 'V' + sy(value + sem) + 'M' + (cx - 3.5) + ' ' + sy(value + sem) + 'H' + (cx + 3.5), stroke: '#222', 'stroke-width': 2, fill: 'none'}, name + '-error-bar');
  }
}
function drawDots(parent, x, values, sy, name) {
  values.forEach(function (v) {
    make(parent, 'circle', {cx: x, cy: sy(v), r: 3.4, fill: '#fff', stroke: '#000', 'stroke-width': 2}, name);
  });
}
dCategories.forEach(function (c, i) {
  const tx = dCatX(i);
  drawBar(dGroup, tx - dBarW, dBarW, dMeans26[i], dSem26[i], dY, '#000', 'bar-26c-' + c);
  drawBar(dGroup, tx, dBarW, dMeans37[i], dSem37[i], dY, '#ed1c24', 'bar-37c-' + c);
  make(dAxis, 'line', {x1: tx, y1: 1457, x2: tx, y2: 1465, stroke: '#1c1c33', 'stroke-width': 2}, 'x-tick-d');
  label(dAxis, tx - (i === 0 ? 2 : 0), 1492, c, 'middle', 28, '#222', 'x-tick-label-d');
});
drawDots(dGroup, dCatX(0) - dBarW / 2 - 14, dDots26Low, dY, 'data-point-26c-50-60s');
drawDots(dGroup, dCatX(0) + dBarW / 2 - 14, dDots37Low, dY, 'data-point-37c-50-60s');
drawDots(dGroup, dCatX(1) - dBarW / 2 - 12, dDots26High, dY, 'data-point-26c-110-120s');
drawDots(dGroup, dCatX(1) + dBarW / 2 - 12, dDots37High, dY, 'data-point-37c-110-120s');
make(dAxis, 'line', {x1: 1129.4, y1: 1457, x2: 1129.4, y2: 1130.7, stroke: '#1c1c33', 'stroke-width': 2}, 'y-axis-d');
make(dAxis, 'line', {x1: 1123, y1: 1457, x2: 1377, y2: 1457, stroke: '#1c1c40', 'stroke-width': 2.5}, 'x-axis-d');
ampTicks200.forEach(function (v) {
  make(dAxis, 'line', {x1: 1122.4, y1: dY(v), x2: 1129.4, y2: dY(v), stroke: '#1c1c33', 'stroke-width': 2}, 'y-tick-d');
  label(dAxis, 1118, dY(v) + 11, String(v), 'end', 27, '#222', 'y-tick-label-d');
});
ampMinor200.forEach(function (v) {
  make(dAxis, 'line', {x1: 1125.4, y1: dY(v), x2: 1129.4, y2: dY(v), stroke: '#1c1c33', 'stroke-width': 1.6}, 'y-minor-tick-d');
});
label(dGroup, 1168, 1452, '17', 'middle', 22, '#222', 'sample-size-26c-50-60s');
label(dGroup, 1220, 1407, '22', 'middle', 22, '#222', 'sample-size-37c-50-60s');
label(dGroup, 1273, 1449, '17', 'middle', 22, '#fff', 'sample-size-26c-110-120s');
label(dGroup, 1320, 1449, '22', 'middle', 22, '#333', 'sample-size-37c-110-120s');

// ---------- Panel E ----------
const eGroup = make(layer, 'g', {}, 'panel-e');
const eY = linearScale(0, 15, 1457, 1130);
const eCatX = linearScale(0, 1, 1553.4, 1651);
const eBarW = 82.6;
const eAxis = make(eGroup, 'g', {}, 'axes-e');
eCategories.forEach(function (c, i) {
  const tx = eCatX(i);
  drawBar(eGroup, tx - eBarW / 2, eBarW, eMeans[i], eSem[i], eY, i === 0 ? '#231f20' : '#ed1c24', 'bar-tau-' + c);
  make(eAxis, 'line', {x1: tx, y1: 1457, x2: tx, y2: 1465, stroke: '#1c1c33', 'stroke-width': 2}, 'x-tick-e');
  label(eAxis, tx, 1492, c, 'middle', 28, '#222', 'x-tick-label-e');
});
drawDots(eGroup, eCatX(0) - 20, eDots26, eY, 'data-point-tau-26c');
drawDots(eGroup, eCatX(1) - 23, eDots37, eY, 'data-point-tau-37c');
make(eAxis, 'line', {x1: 1504.8, y1: 1457, x2: 1504.8, y2: 1130, stroke: '#1c1c33', 'stroke-width': 2}, 'y-axis-e');
make(eAxis, 'line', {x1: 1498, y1: 1457, x2: 1700, y2: 1457, stroke: '#1c1c40', 'stroke-width': 2.5}, 'x-axis-e');
tauTicks.forEach(function (v) {
  make(eAxis, 'line', {x1: 1497.8, y1: eY(v), x2: 1504.8, y2: eY(v), stroke: '#1c1c33', 'stroke-width': 2}, 'y-tick-e');
  label(eAxis, 1494, eY(v) + 11, String(v), 'end', 28, '#222', 'y-tick-label-e');
});
tauMinor.forEach(function (v) {
  make(eAxis, 'line', {x1: 1500.8, y1: eY(v), x2: 1504.8, y2: eY(v), stroke: '#1c1c33', 'stroke-width': 1.6}, 'y-minor-tick-e');
});
label(eGroup, 1553.5, 1449, '16', 'middle', 22, '#fff', 'sample-size-tau-26c');
label(eGroup, 1651, 1449, '15', 'middle', 22, '#333', 'sample-size-tau-37c');
</script>
</body>
</html>
